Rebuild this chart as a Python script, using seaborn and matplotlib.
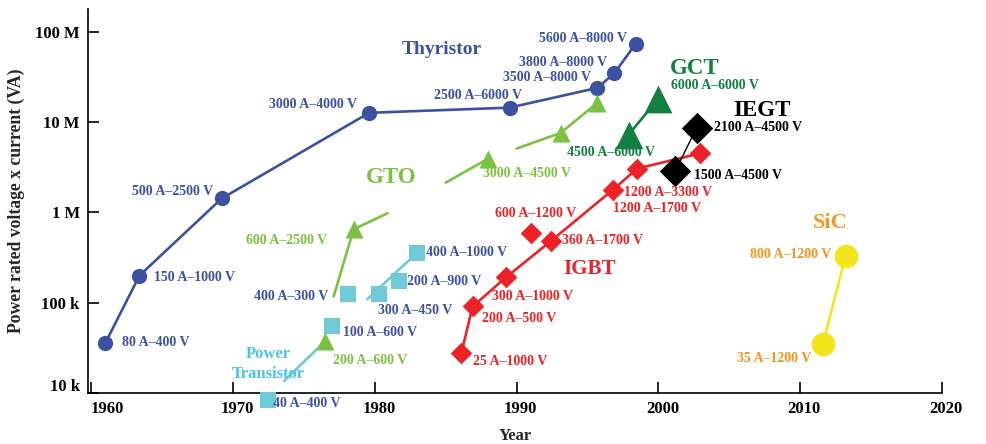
import numpy as np
import pandas as pd
import matplotlib
matplotlib.use("Agg")
import matplotlib.pyplot as plt
import matplotlib.transforms as mtransforms
import seaborn as sns

# ---------------- data ----------------
thy_years = [1961.0, 1963.4, 1969.2, 1979.6, 1989.5, 1995.7, 1996.9, 1998.4]
thy_va = [3.6e4, 2.0e5, 1.43e6, 1.27e7, 1.45e7, 2.4e7, 3.5e7, 7.4e7]
thy_labels = ['80 A–400 V', '150 A–1000 V', '500 A–2500 V', '3000 A–4000 V',
              '2500 A–6000 V', '3500 A–8000 V', '3800 A–8000 V', '5600 A–8000 V']

gto_years = [1976.5, 1978.5, 1988.0, 1993.1, 1995.7]
gto_va = [3.8e4, 6.5e5, 3.95e6, 7.6e6, 1.64e7]
gto_labels = ['200 A–600 V', '600 A–2500 V', '3000 A–4500 V', '', '']
gto_line_years = [1977.1, 1978.5, 1980.9, 1985.0, 1988.0, 1990.0, 1993.1, 1995.7]
gto_line_va = [1.18e5, 6.5e5, 9.8e5, 2.14e6, 3.95e6, 5.1e6, 7.6e6, 1.64e7]
gto_line_seg = [0, 0, 0, 1, 1, 2, 2, 2]

pt_years = [1972.5, 1977.0, 1978.1, 1980.3, 1981.7, 1983.0]
pt_va = [8.4e3, 5.5e4, 1.24e5, 1.24e5, 1.73e5, 3.6e5]
pt_labels = ['40 A–400 V', '100 A–600 V', '400 A–300 V', '300 A–450 V',
             '200 A–900 V', '400 A–1000 V']
pt_line_years = [1973.6, 1976.3, 1979.45, 1983.0]
pt_line_va = [1.36e4, 3.5e4, 1.09e5, 3.6e5]
pt_line_seg = [0, 0, 1, 1]

igbt_years = [1986.1, 1986.9, 1989.25, 1991.0, 1992.4, 1996.8, 1998.5, 2002.9]
igbt_va = [2.77e4, 9.1e4, 1.91e5, 5.9e5, 4.8e5, 1.79e6, 3.06e6, 4.5e6]
igbt_labels = ['25 A–1000 V', '200 A–500 V', '300 A–1000 V', '600 A–1200 V',
               '360 A–1700 V', '1200 A–1700 V', '1200 A–3300 V', '']
igbt_on_line = [True, True, True, False, True, True, True, True]

iegt_years = [2001.2, 2002.7]
iegt_va = [2.9e6, 8.7e6]
iegt_labels = ['1500 A–4500 V', '2100 A–4500 V']

gct_years = [1997.9, 2000.0]
gct_va = [7.3e6, 1.82e7]
gct_labels = ['4500 A–6000 V', '6000 A–6000 V']

sic_years = [2011.6, 2013.2]
sic_va = [3.5e4, 3.3e5]
sic_labels = ['35 A–1200 V', '800 A–1200 V']

x_ticks = [1960, 1970, 1980, 1990, 2000, 2010, 2020]
y_ticks = [1e4, 1e5, 1e6, 1e7, 1e8]
y_ticklabels = ['10 k', '100 k', '1 M', '10 M', '100 M']

# ---------------- style ----------------
sns.set_theme(style="ticks")
plt.rcParams['font.family'] = ['Liberation Serif', 'DejaVu Serif']
plt.rcParams['font.weight'] = 'bold'

thy_c = '#3d51a3'
gto_c = '#7cc242'
gct_c = '#118040'
igbt_c = '#ec2227'
pt_c = '#6ecad7'
pt_text_c = '#4cc3ee'
sic_c = '#f2e51a'
sic_text_c = '#f7941d'

LW = 1.9
LBL = 10

fig = plt.figure(figsize=(9.86, 4.44), dpi=100)
ax = fig.add_axes([0.08925, 0.11486, 0.8661, 0.8649])
ax.set_yscale('log')


def line(xs, ys, color, seg=None, lw=LW, z=2):
    df = pd.DataFrame({'x': xs, 'y': ys, 's': seg if seg is not None else [0] * len(xs)})
    sns.lineplot(data=df, x='x', y='y', units='s', estimator=None, sort=False,
                 color=color, linewidth=lw, ax=ax, zorder=z, legend=False)


def marks(xs, ys, color, marker, size, z=3, clip=True):
    df = pd.DataFrame({'x': xs, 'y': ys})
    sns.scatterplot(data=df, x='x', y='y', color=color, marker=marker, s=size ** 2,
                    linewidth=0, ax=ax, zorder=z, legend=False, clip_on=clip)


def labels(xs, ys, texts, offsets, color, size=LBL):
    for x, y, t, (dx, dy, ha) in zip(xs, ys, texts, offsets):
        if t:
            ax.annotate(t, (x, y), xytext=(dx, dy), textcoords='offset pixels',
                        ha=ha, va='center', color=color, fontsize=size,
                        fontweight='bold', annotation_clip=False, zorder=6)


# Thyristor
line(thy_years, thy_va, thy_c)
marks(thy_years, thy_va, thy_c, 'o', 11)
labels(thy_years, thy_va, thy_labels,
       [(17, 0, 'left'), (15, -2, 'left'), (-9, 7, 'right'), (-12, 8, 'right'),
        (-32, 12, 'center'), (-6, 10, 'right'), (-7, 11, 'right'), (-9, 5, 'right')],
       thy_c)

# Power transistor
line(pt_line_years, pt_line_va, pt_c, seg=pt_line_seg)
marks(pt_years, pt_va, pt_c, 's', 11.5, clip=False)
labels(pt_years, pt_va, pt_labels,
       [(5, -4, 'left'), (11, -6, 'left'), (-20, -2, 'right'), (-1, -16, 'left'),
        (8, 0, 'left'), (9, 0, 'left')],
       thy_c)

# GTO
line(gto_line_years, gto_line_va, gto_c, seg=gto_line_seg)
marks(gto_years, gto_va, gto_c, '^', 13)
labels(gto_years, gto_va, gto_labels,
       [(8, -20, 'left'), (-26, -11, 'right'), (-5, -15, 'left'), (0, 0, 'left'), (0, 0, 'left')],
       gto_c)

# IGBT
iy = [y for y, o in zip(igbt_years, igbt_on_line) if o]
iv = [v for v, o in zip(igbt_va, igbt_on_line) if o]
line(iy, iv, igbt_c)
marks(igbt_years, igbt_va, igbt_c, 'D', 11)
labels(igbt_years, igbt_va, igbt_labels,
       [(12, -8, 'left'), (9, -12, 'left'), (-14, -19, 'left'), (5, 20, 'center'),
        (11, 1, 'left'), (0, -19, 'left'), (-13, -24, 'left'), (0, 0, 'left')],
       igbt_c)

# GCT
line(gct_years, gct_va, gct_c)
marks(gct_years, gct_va, gct_c, '^', 20, z=4)
labels(gct_years, gct_va, gct_labels,
       [(-18, -18, 'center'), (13, 13, 'left')], gct_c)

# IEGT
line(iegt_years, iegt_va, 'black', lw=1.0, z=4)
marks(iegt_years, iegt_va, 'black', 'D', 16, z=5)
labels(iegt_years, iegt_va, iegt_labels,
       [(19, -5, 'left'), (17, 0, 'left')], 'black')

# SiC
line(sic_years, sic_va, sic_c)
marks(sic_years, sic_va, sic_c, 'o', 17)
labels(sic_years, sic_va, sic_labels,
       [(-12, -15, 'right'), (-14, 1, 'right')], sic_text_c)


# group titles (figure pixel positions)
def ftext(px, py, s, color, size):
    fig.text(px / 986, 1 - py / 444, s, color=color, fontsize=size,
             fontweight='bold', ha='center', va='center')


ftext(442, 50, 'Thyristor', thy_c, 14)
ftext(391, 177, 'GTO', gto_c, 16.5)
ftext(695, 68, 'GCT', gct_c, 16.5)
ftext(762, 110, 'IEGT', 'black', 16.5)
ftext(590, 269, 'IGBT', igbt_c, 15)
ftext(830, 223, 'SiC', sic_text_c, 16)
ftext(268, 354, 'Power', pt_text_c, 12)
ftext(268, 374, 'Transistor', pt_text_c, 12)

# axes
ax.set_xlim(1959.77, 2020.0)
ax.set_ylim(1e4, 1.795e8)
ax.set_xticks(x_ticks)
ax.set_xticklabels([str(t) for t in x_ticks])
ax.set_yticks(y_ticks)
ax.set_yticklabels(y_ticklabels)
ax.minorticks_off()
ax.tick_params(axis='both', direction='in', length=8, width=1.2, labelsize=12,
               colors='black', pad=6)
for lab in ax.get_xticklabels() + ax.get_yticklabels():
    lab.set_fontweight('bold')

# small label shifts as in the reference
def shift(lab, dx_px, dy_px):
    lab.set_transform(lab.get_transform() +
                      mtransforms.ScaledTranslation(dx_px / 100, dy_px / 100, fig.dpi_scale_trans))

xl = ax.get_xticklabels()
for i, lab in enumerate(xl):
    shift(lab, 16 if i == 0 else 4, 0)
shift(ax.get_yticklabels()[0], 0, 8)

sns.despine(ax=ax)
for sp in ['left', 'bottom']:
    ax.spines[sp].set_linewidth(1.2)
    ax.spines[sp].set_color('black')
ax.set_xlabel('Year', fontsize=12, fontweight='bold', labelpad=8)
ax.set_ylabel('Power rated voltage x current (VA)', fontsize=12.7, fontweight='bold', labelpad=7)
ax.set_facecolor('white')
fig.patch.set_facecolor('white')

fig.savefig('out.png', dpi=100)
